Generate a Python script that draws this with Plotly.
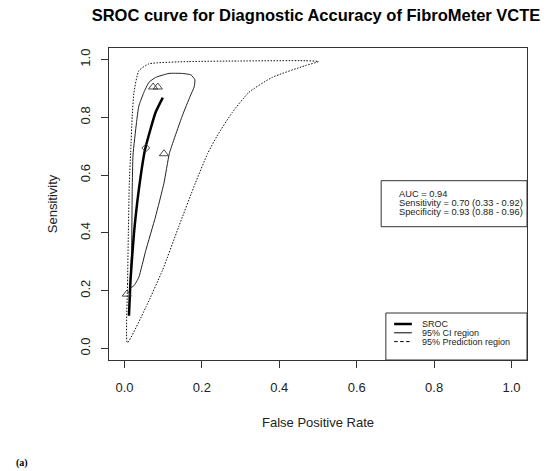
import plotly.graph_objects as go

# SROC curve (false positive rate vs sensitivity)
sroc_fpr = [0.0116, 0.016, 0.0245, 0.037, 0.053, 0.067, 0.080, 0.099]
sroc_sens = [0.113, 0.246, 0.398, 0.549, 0.688, 0.758, 0.816, 0.868]

# 95% confidence region (closed contour)
ci_fpr = [0.016, 0.0185, 0.020, 0.022, 0.031, 0.037, 0.050, 0.063, 0.080, 0.115, 0.149,
          0.172, 0.182, 0.180, 0.170, 0.149, 0.116, 0.102, 0.080, 0.055, 0.037, 0.0245, 0.016]
ci_sens = [0.211, 0.339, 0.55, 0.67, 0.781, 0.839, 0.886, 0.921, 0.938, 0.952, 0.952,
           0.947, 0.930, 0.905, 0.874, 0.804, 0.675, 0.572, 0.455, 0.339, 0.246, 0.217, 0.211]

# 95% prediction region (closed contour)
pred_fpr = [0.0075, 0.008, 0.010, 0.0125, 0.016, 0.020, 0.0245, 0.037, 0.063, 0.166, 0.295,
            0.467, 0.501, 0.467, 0.381, 0.321, 0.278, 0.239, 0.215, 0.183, 0.140, 0.098,
            0.055, 0.0075]
pred_sens = [0.020, 0.223, 0.40, 0.572, 0.68, 0.804, 0.886, 0.961, 0.985, 0.993, 0.995,
             0.996, 0.993, 0.979, 0.938, 0.886, 0.816, 0.735, 0.675, 0.572, 0.421, 0.270,
             0.142, 0.020]

# individual studies and summary point
study_fpr = [0.006, 0.074, 0.086, 0.102]
study_sens = [0.188, 0.905, 0.905, 0.674]
summary_fpr = [0.055]
summary_sens = [0.694]

tick_vals = [0.0, 0.2, 0.4, 0.6, 0.8, 1.0]
tick_text = ["0.0", "0.2", "0.4", "0.6", "0.8", "1.0"]

stats_lines = ["AUC = 0.94",
               "Sensitivity = 0.70 (0.33 - 0.92)",
               "Specificity = 0.93 (0.88 - 0.96)"]
legend_labels = ["SROC", "95% CI region", "95% Prediction region"]

FONT = "Liberation Sans, Arial, sans-serif"

fig = go.Figure()
fig.add_trace(go.Scatter(x=pred_fpr, y=pred_sens, mode="lines",
                         line=dict(color="#111", width=1, dash="1.5px,1.5px", shape="spline", smoothing=0.5)))
fig.add_trace(go.Scatter(x=ci_fpr, y=ci_sens, mode="lines",
                         line=dict(color="#222", width=1, shape="spline", smoothing=0.4)))
fig.add_trace(go.Scatter(x=sroc_fpr, y=sroc_sens, mode="lines",
                         line=dict(color="black", width=2.5, shape="spline", smoothing=0.5)))
fig.add_trace(go.Scatter(x=study_fpr, y=study_sens, mode="markers",
                         marker=dict(symbol="triangle-up-open", size=8, color="#333",
                                     line=dict(width=0.9))))
fig.add_trace(go.Scatter(x=summary_fpr, y=summary_sens, mode="markers",
                         marker=dict(symbol="diamond-open", size=6, color="#333",
                                     line=dict(width=0.9))))

# pixel helpers for plot area (l=108.5, r=527, t=48.3, b=360.3)
L, R, T, B = 108.5, 527.0, 48.3, 360.3
def px(x):
    return (x - L) / (R - L)
def py(y):
    return (B - y) / (B - T)

shapes = []
annotations = []

# stats box
shapes.append(dict(type="rect", xref="paper", yref="paper", x0=px(381), x1=1,
                   y0=py(227), y1=py(181), line=dict(color="#333", width=1)))
for i, s in enumerate(stats_lines):
    annotations.append(dict(xref="paper", yref="paper", x=px(396.7), y=py(194 + 9.2 * i),
                            text=s, showarrow=False, xanchor="left", yanchor="middle",
                            font=dict(family=FONT, size=9.3, color="#222")))

# legend box
shapes.append(dict(type="rect", xref="paper", yref="paper", x0=px(385.7), x1=1,
                   y0=0, y1=py(313.3), line=dict(color="#333", width=1)))
legend_styles = [dict(width=2.5, dash="solid"), dict(width=1, dash="solid"),
                 dict(width=1, dash="3.5px,2.5px")]
for i, (lab, st) in enumerate(zip(legend_labels, legend_styles)):
    yy = py(324.3 + 8.8 * i)
    shapes.append(dict(type="line", xref="paper", yref="paper", x0=px(394), x1=px(411.7),
                       y0=yy, y1=yy, line=dict(color="black", width=st["width"], dash=st["dash"])))
    annotations.append(dict(xref="paper", yref="paper", x=px(420), y=yy, text=lab,
                            showarrow=False, xanchor="left", yanchor="middle",
                            font=dict(family=FONT, size=9, color="#222")))

# axis titles and panel label
annotations.append(dict(xref="paper", yref="paper", x=0.5, y=0, yshift=-62, text="False Positive Rate",
                        showarrow=False, yanchor="middle",
                        font=dict(family=FONT, size=13, color="#222")))
annotations.append(dict(xref="paper", yref="paper", x=0, y=0.5, xshift=-(L - 51.7), text="Sensitivity",
                        showarrow=False, textangle=-90, xanchor="center",
                        font=dict(family=FONT, size=13, color="#222")))
annotations.append(dict(xref="paper", yref="paper", x=0, y=0, xshift=-(L - 13), yshift=-(463.5 - B),
                        text="<b>(a)</b>", showarrow=False, yanchor="middle",
                        font=dict(family="Liberation Serif, Times New Roman, serif", size=10, color="black")))

axis_common = dict(range=[-0.04, 1.04], tickvals=tick_vals, ticktext=tick_text,
                   showgrid=False, zeroline=False, showline=True, mirror=True,
                   linecolor="#333", linewidth=1, ticks="outside", ticklen=7,
                   tickcolor="#333", tickfont=dict(family=FONT, size=13, color="#222"))

fig.update_layout(
    width=550, height=471, autosize=False,
    margin=dict(l=L, r=550 - R, t=T, b=471 - B),
    paper_bgcolor="white", plot_bgcolor="white",
    showlegend=False,
    title=dict(text="<b>SROC curve for Diagnostic Accuracy of FibroMeter VCTE</b>",
               xref="container", x=316 / 550, xanchor="center",
               yref="container", y=1 - 15 / 471, yanchor="middle",
               font=dict(family=FONT, size=16.5, color="black")),
    xaxis=dict(**axis_common, ticklabelstandoff=8),
    yaxis=dict(**axis_common, tickangle=-90, ticklabelstandoff=6),
    shapes=shapes,
    annotations=annotations,
)

fig.write_html("out.html", config={"displayModeBar": False},
               post_script="document.body.style.margin = '0';")
